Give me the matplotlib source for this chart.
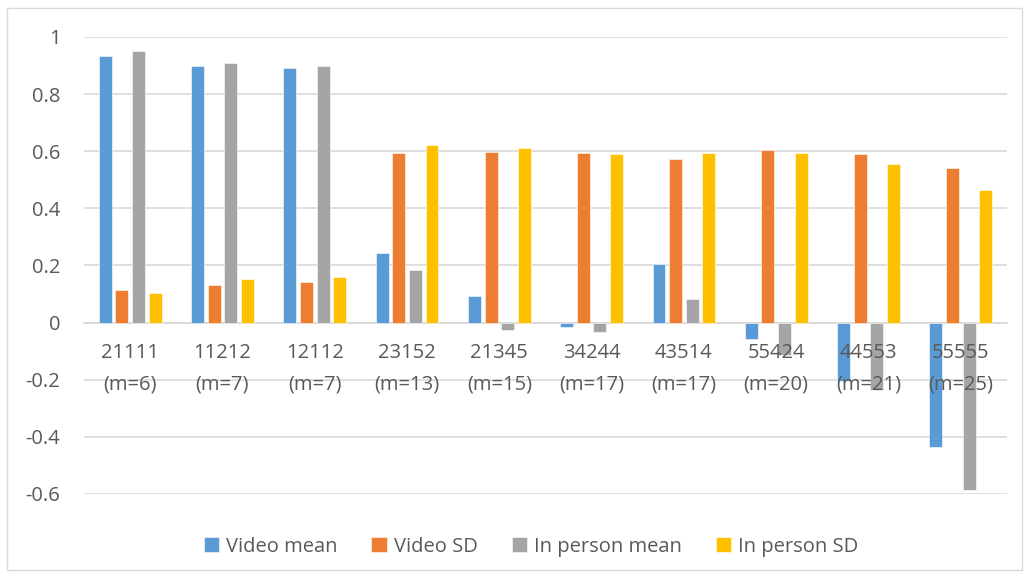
import numpy as np
import matplotlib
matplotlib.use("Agg")
import matplotlib.pyplot as plt
from matplotlib.patches import Rectangle

# data
categories = ["21111\n(m=6)", "11212\n(m=7)", "12112\n(m=7)", "23152\n(m=13)", "21345\n(m=15)",
              "34244\n(m=17)", "43514\n(m=17)", "55424\n(m=20)", "44553\n(m=21)", "55555\n(m=25)"]
video_mean = [0.934, 0.900, 0.892, 0.242, 0.093, -0.016, 0.205, -0.056, -0.205, -0.434]
video_sd = [0.113, 0.130, 0.141, 0.595, 0.599, 0.593, 0.572, 0.606, 0.589, 0.541]
person_mean = [0.950, 0.910, 0.899, 0.184, -0.025, -0.032, 0.084, -0.112, -0.237, -0.585]
person_sd = [0.105, 0.154, 0.161, 0.621, 0.612, 0.591, 0.593, 0.594, 0.555, 0.463]

series = [("Video mean", video_mean, "#5B9BD5"),
          ("Video SD", video_sd, "#ED7D31"),
          ("In person mean", person_mean, "#A5A5A5"),
          ("In person SD", person_sd, "#FFC000")]

plt.rcParams['font.family'] = ['Open Sans', 'DejaVu Sans']
text_col = "#595959"
fs = 14.5

fig = plt.figure(figsize=(10.31, 5.76), dpi=100)
ax = fig.add_axes([0.0815, 0.1424, 0.8952, 0.7934])

x = np.arange(len(categories))
step = 0.18
width = 0.14
for i, (name, vals, col) in enumerate(series):
    ax.bar(x + (i - 1.5) * step, vals, width, color=col, label=name, zorder=2,
           edgecolor="white", linewidth=0.4)

ax.set_xlim(-0.5, len(categories) - 0.5)
ax.set_ylim(-0.6, 1.0)
ax.set_yticks([-0.6, -0.4, -0.2, 0, 0.2, 0.4, 0.6, 0.8, 1.0])
ax.set_yticklabels(["-0.6", "-0.4", "-0.2", "0", "0.2", "0.4", "0.6", "0.8", "1"])
ax.yaxis.grid(True, color="#D9D9D9", linewidth=1.2)
ax.set_axisbelow(True)
# category labels sit on top of the bars, like in the original
ax.xaxis.set_zorder(3)

ax.set_xticks(x)
ax.set_xticklabels(categories)
ax.spines['bottom'].set_position(('data', 0))
ax.spines['bottom'].set_color("#D9D9D9")
ax.spines['bottom'].set_linewidth(1.2)
ax.spines['bottom'].set_zorder(1)
for s in ['top', 'right', 'left']:
    ax.spines[s].set_visible(False)
ax.tick_params(axis='x', length=0, pad=15, labelsize=fs, labelcolor=text_col)
ax.tick_params(axis='y', length=0, pad=17, labelsize=fs, labelcolor=text_col)
for lbl in ax.get_xticklabels():
    lbl.set_linespacing(1.75)

fig.legend(loc="center", bbox_to_anchor=(0.515, 0.051), ncol=4, frameon=False,
           fontsize=fs, labelcolor=text_col, handlelength=0.75, handleheight=0.75,
           handletextpad=0.35, columnspacing=1.7)

fig.patches.append(Rectangle((7 / 1031, 1 - 570 / 576), 1015 / 1031, 562 / 576,
                             transform=fig.transFigure, fill=False,
                             edgecolor="#D9D9D9", linewidth=1.0))

plt.savefig("out.png", dpi=100)
